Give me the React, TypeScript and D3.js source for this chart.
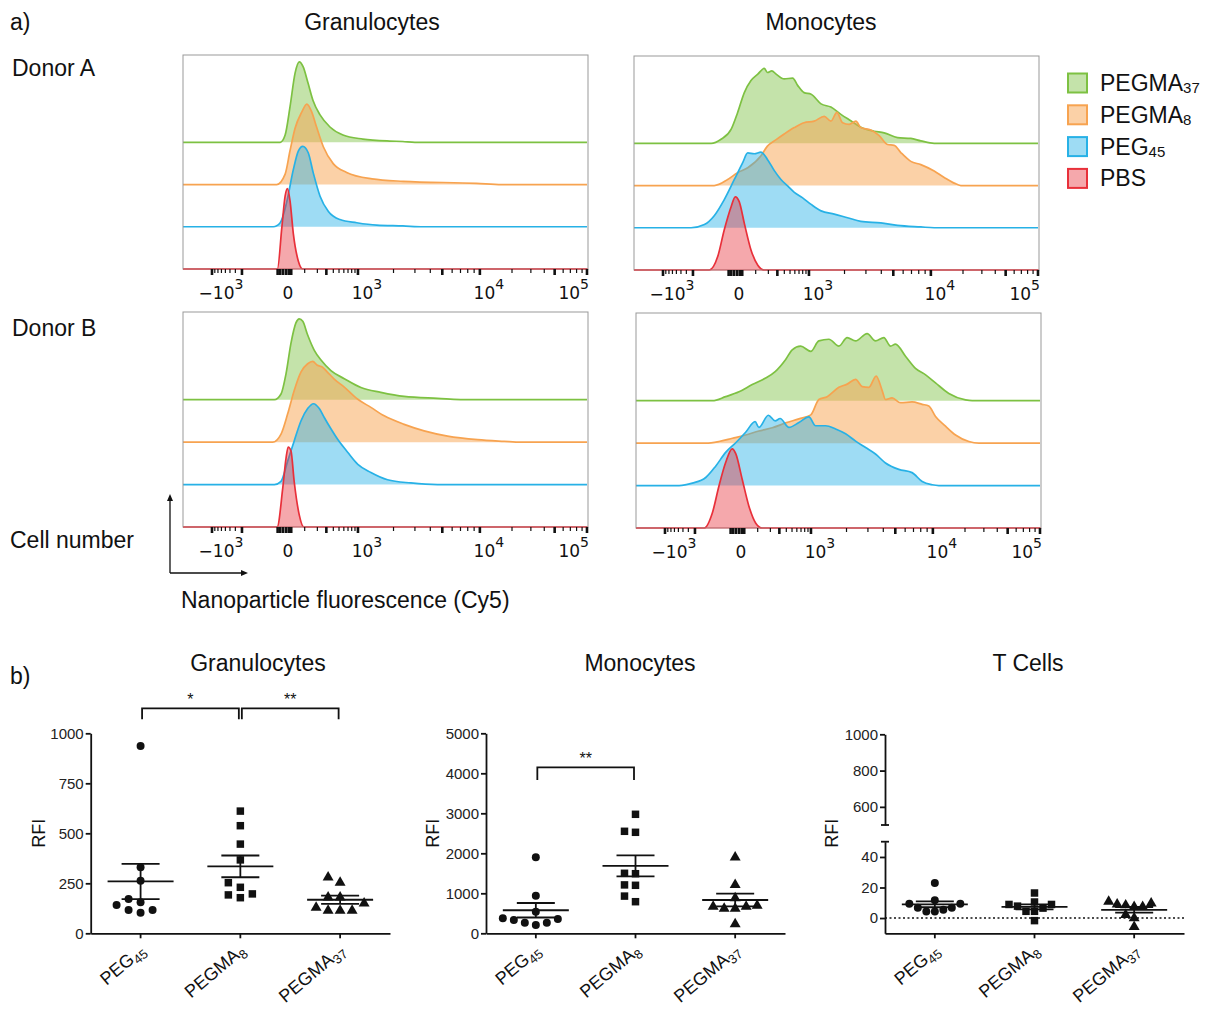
import { useEffect, useRef } from 'react';
import * as d3 from 'd3';

type Pt = [number, number];

// a) flow histograms: [Cy5 fluorescence, % of mode]
const granA_PEGMA37: Pt[] = [[-10, 0], [7, 9], [25, 44], [47, 86], [68, 100], [90, 94], [122, 74], [161, 52], [227, 34], [349, 19], [581, 9], [1103, 4], [1863, 1.5], [2389, 1], [3000, 0]];
const granA_PEGMA8: Pt[] = [[-24, 0], [7, 13], [25, 42], [47, 70], [82, 90], [114, 100], [151, 90], [191, 72], [263, 47], [398, 26], [665, 15], [1320, 7], [2405, 4], [9400, 1.5], [16000, 0]];
const granA_PEG45: Pt[] = [[-39, 0], [-10, 5], [12, 30], [39, 71], [63, 94], [88, 100], [124, 92], [163, 67], [227, 38], [327, 19], [517, 9], [960, 5], [1444, 2], [2389, 1], [3500, 0]];
const granA_PBS: Pt[] = [[-21, 0], [-4, 52], [7, 91], [15, 100], [25, 85], [39, 44], [63, 10], [88, 0]];

const monoA_PEGMA37: Pt[] = [[-117, 0], [-55, 5], [-10, 17.5], [12, 38], [39, 63], [72, 78], [114, 86], [163, 93], [191, 88], [235, 90], [285, 86], [398, 80], [553, 81], [665, 72], [840, 63], [1044, 61], [1270, 49], [1539, 45], [1866, 36], [2255, 28], [2725, 20], [3497, 15], [4215, 13], [5408, 7], [6916, 6], [8314, 3], [10740, 0]];
const monoA_PEGMA8: Pt[] = [[-95, 0], [-24, 7.5], [12, 16], [55, 22], [137, 37], [191, 49], [285, 57], [398, 64], [588, 72], [840, 78], [1111, 80], [1352, 86], [1539, 80], [1728, 91], [1928, 78], [2186, 76], [2482, 80], [2725, 72], [3288, 69], [3845, 62], [4490, 51], [5080, 50], [5750, 41], [6916, 30], [8314, 26], [10740, 18], [13330, 10], [16530, 3], [19090, 0]];
const monoA_PEG45: Pt[] = [[-327, 0], [-172, 4], [-95, 15], [-39, 35], [1, 60], [32, 81], [55, 93], [91, 92], [137, 94], [191, 85], [263, 71], [349, 60], [456, 52], [588, 44], [790, 37.5], [1044, 29], [1270, 21], [1642, 17], [2118, 12.5], [2725, 8], [3965, 6], [5408, 3], [8314, 1], [10740, 0]];
const monoA_PBS: Pt[] = [[-130, 0], [-73, 17], [-39, 50], [-10, 79], [4, 91], [18, 85], [39, 58], [72, 25], [114, 6], [163, 0]];

const granB_PEGMA37: Pt[] = [[-34, 0], [-7, 7], [10, 32], [29, 70], [51, 95], [68, 100], [88, 97], [120, 80], [172, 61], [237, 49], [363, 36], [610, 26], [1061, 15], [1567, 9], [2447, 4], [4577, 1.7], [8471, 0]];
const granB_PEGMA8: Pt[] = [[-42, 0], [-7, 10], [16, 35], [43, 64], [78, 87], [120, 97], [158, 100], [200, 95], [250, 93], [310, 87], [415, 78], [610, 68], [995, 53], [1292, 43], [1673, 32.5], [2447, 22], [3564, 14], [5510, 7.5], [9580, 3], [16880, 1], [24220, 0]];
const granB_PEG45: Pt[] = [[-34, 0], [-7, 4], [16, 29], [43, 54], [78, 79], [120, 94], [165, 100], [219, 94], [274, 83], [363, 69], [474, 56], [691, 40], [995, 25], [1292, 15], [1784, 6], [2777, 2], [4577, 0]];
const granB_PBS: Pt[] = [[-22, 0], [-1, 48], [10, 85], [18, 99], [29, 94], [43, 56], [68, 15], [94, 0]];

const monoB_PEGMA37: Pt[] = [[-122, 0], [-42, 5], [10, 11], [68, 20], [158, 28], [250, 36], [390, 51], [504, 63], [691, 67.5], [995, 61], [1170, 74], [1424, 76], [1728, 67.5], [2024, 78], [2377, 74], [2955, 83], [3456, 74], [4040, 78], [4577, 67.5], [5017, 70], [6038, 55], [7260, 40], [8750, 32], [10590, 22], [14120, 9], [20230, 1], [23340, 0]];
const monoB_PEGMA8: Pt[] = [[-178, 0], [-78, 2], [-13, 6], [36, 10], [108, 15], [219, 19], [390, 25], [648, 30], [995, 35], [1170, 54], [1378, 57.5], [1728, 69], [2024, 73], [2377, 79], [2694, 70], [3055, 69], [3500, 83], [3918, 65], [4166, 54], [4709, 56], [5510, 50], [6818, 51], [8217, 48], [9276, 46], [10590, 33], [13140, 21], [16310, 10], [21730, 2], [26940, 0]];
const monoB_PEG45: Pt[] = [[-585, 0], [-337, 3], [-178, 10], [-99, 24], [-42, 41], [-1, 53], [36, 66], [84, 79], [108, 72], [181, 87], [250, 80], [310, 83], [444, 72], [648, 78], [930, 85], [1097, 74], [1335, 74], [1622, 70], [1965, 64], [2377, 55], [2872, 47], [3456, 39], [4166, 28], [5333, 20], [6818, 16], [8217, 5], [9880, 1], [11380, 0]];
const monoB_PBS: Pt[] = [[-194, 0], [-122, 19], [-78, 52], [-42, 81], [-14, 98], [-1, 92], [22, 60], [51, 27], [88, 6], [132, 0]];

const legendMain = ['PEGMA', 'PEGMA', 'PEG', 'PBS'];
const legendSub = ['37', '8', '45', ''];
const seriesColors = ['#7dc142', '#f7a350', '#27b1e6', '#e8303a'];
const seriesFill = [0.45, 0.5, 0.45, 0.42];

// logicle-like axis
const axisKnots = [-2830, -1000, 0, 1000, 10000, 100000];
const labelTicks = [-1000, 0, 1000, 10000, 100000];
const labelMain = ['\u221210', '0', '10', '10', '10'];
const labelSup = ['3', '', '3', '4', '5'];
const thickTicks = [-1000, -300, -20, -10, 0, 10, 20, 30, 300, 1000, 5000, 10000, 50000, 100000];
const thinTicks = [-900, -800, -700, -600, -500, -400, 100, 200, 400, 500, 600, 700, 800, 900, 2000, 3000, 4000, 6000, 7000, 8000, 9000, 20000, 30000, 40000, 60000, 70000, 80000, 90000];

// b) RFI per donor
const categoriesMain = ['PEG', 'PEGMA', 'PEGMA'];
const categoriesSub = ['45', '8', '37'];
const granPEG45 = [936, 330, 263, 171, 155, 141, 117, 117, 103];
const granPEGMA8 = [611, 538, 446, 367, 253, 230, 197, 192, 178];
const granPEGMA37 = [280, 253, 180, 180, 150, 128, 113, 113, 113];
const monoPEG45 = [1900, 940, 540, 375, 358, 333, 266, 266, 208];
const monoPEGMA8 = [2975, 2550, 2525, 1500, 1490, 1210, 1200, 930, 790];
const monoPEGMA37 = [1900, 1210, 880, 690, 670, 667, 620, 620, 233];
const tPEG45 = [23, 11.6, 9.4, 9.4, 6.7, 6.7, 5.5, 4.3, 4.3];
const tPEGMA8 = [16.4, 10.5, 8.9, 8.9, 7.8, 6.5, 4.4, 4.4, -1.7];
const tPEGMA37 = [10.7, 9.6, 8.9, 8.4, 7.3, 7.3, 2.1, 0, -5.7];

const SANS = 'Liberation Sans, Arial, Helvetica, sans-serif';
const FLOW = 'DejaVu Sans, sans-serif';

const T = (v: number) => Math.sign(v) * Math.log10(1 + Math.abs(v) / 100);

const App = () => {
  const svgRef = useRef<SVGSVGElement>(null);

  useEffect(() => {
    const svg = d3.select(svgRef.current);
    svg.selectAll('*').remove();

    const label = (x: number, y: number, text: string, size = 23, anchor = 'start') =>
      svg.append('text').attr('x', x).attr('y', y).attr('font-family', SANS)
        .attr('font-size', size).attr('text-anchor', anchor).attr('fill', '#111').text(text);

    // ---------- a) histograms ----------
    label(10, 30, 'a)');
    label(372, 30, 'Granulocytes', 23, 'middle');
    label(821, 30, 'Monocytes', 23, 'middle');
    label(12, 76, 'Donor A');
    label(12, 336, 'Donor B');
    label(10, 548, 'Cell number');
    label(181, 608, 'Nanoparticle fluorescence (Cy5)');

    // axis arrows
    svg.append('path').attr('d', 'M170,573 V499 M170,573 H243')
      .attr('fill', 'none').attr('stroke', '#111').attr('stroke-width', 1.3);
    svg.append('path').attr('d', 'M170,494 L167,501 L173,501 Z M248,573 L241,570 L241,576 Z').attr('fill', '#111');

    const histPanels = [
      { left: 183, top: 55, width: 405, height: 214, series: [granA_PEGMA37, granA_PEGMA8, granA_PEG45, granA_PBS] },
      { left: 634, top: 56, width: 405, height: 214, series: [monoA_PEGMA37, monoA_PEGMA8, monoA_PEG45, monoA_PBS] },
      { left: 183, top: 312, width: 405, height: 215, series: [granB_PEGMA37, granB_PEGMA8, granB_PEG45, granB_PBS] },
      { left: 636, top: 313, width: 405, height: 215, series: [monoB_PEGMA37, monoB_PEGMA8, monoB_PEG45, monoB_PBS] },
    ];
    const knotFrac = [0, 0.0716, 0.247, 0.432, 0.733, 0.9975];

    histPanels.forEach((p) => {
      const bottom = p.top + p.height;
      const x = d3.scaleLinear().domain(axisKnots.map(T)).range(knotFrac.map((f) => p.left + f * p.width));
      const xPos = (v: number) => x(T(v));
      const y = d3.scaleLinear().domain([0, 266]).range([bottom, p.top]);
      const g = svg.append('g');

      g.append('rect').attr('x', p.left).attr('y', p.top).attr('width', p.width).attr('height', p.height)
        .attr('fill', '#fff');

      p.series.forEach((data, k) => {
        const off = (3 - k) * 52.5;
        const pts: Pt[] = [[axisKnots[0], 0], ...data, [100000, 0]];
        const area = d3.area<Pt>().x((d) => xPos(d[0])).y0(y(off)).y1((d) => y(off + d[1])).curve(d3.curveMonotoneX);
        const line = d3.line<Pt>().x((d) => xPos(d[0])).y((d) => y(off + d[1])).curve(d3.curveMonotoneX);
        g.append('path').attr('d', area(pts)).attr('fill', seriesColors[k]).attr('fill-opacity', seriesFill[k]);
        g.append('path').attr('d', line(pts)).attr('fill', 'none').attr('stroke', seriesColors[k]).attr('stroke-width', 1.7);
      });

      g.append('rect').attr('x', p.left).attr('y', p.top).attr('width', p.width).attr('height', p.height)
        .attr('fill', 'none').attr('stroke', '#999').attr('stroke-width', 1);
      g.append('line').attr('x1', p.left).attr('x2', p.left + p.width).attr('y1', bottom).attr('y2', bottom)
        .attr('stroke', seriesColors[3]).attr('stroke-opacity', 0.6).attr('stroke-width', 1.2);

      thinTicks.forEach((v) => {
        g.append('line').attr('x1', xPos(v)).attr('x2', xPos(v)).attr('y1', bottom).attr('y2', bottom + 4)
          .attr('stroke', '#111').attr('stroke-width', 1.2);
      });
      thickTicks.forEach((v) => {
        g.append('line').attr('x1', xPos(v)).attr('x2', xPos(v)).attr('y1', bottom).attr('y2', bottom + 6)
          .attr('stroke', '#111').attr('stroke-width', 2.6);
      });

      labelTicks.forEach((v, i) => {
        const t = g.append('text').attr('y', bottom + 30).attr('font-family', FLOW).attr('font-size', 17).attr('fill', '#111');
        if (i === labelTicks.length - 1) t.attr('x', p.left + p.width + 1).attr('text-anchor', 'end');
        else t.attr('x', xPos(v) + (v === 0 ? 5 : 9)).attr('text-anchor', 'middle');
        t.append('tspan').text(labelMain[i]);
        if (labelSup[i]) t.append('tspan').attr('dy', -10).attr('font-size', 14).text(labelSup[i]);
      });
    });

    // legend
    legendMain.forEach((m, i) => {
      const cy = 83 + i * 31.8;
      svg.append('rect').attr('x', 1068).attr('y', cy - 9.5).attr('width', 19).attr('height', 19)
        .attr('fill', seriesColors[i]).attr('fill-opacity', seriesFill[i]).attr('stroke', seriesColors[i]).attr('stroke-width', 2);
      const t = svg.append('text').attr('x', 1100).attr('y', cy + 8).attr('font-family', SANS).attr('font-size', 23).attr('fill', '#111');
      t.append('tspan').text(m);
      if (legendSub[i]) t.append('tspan').attr('dy', 2).attr('font-size', 15).text(legendSub[i]);
    });

    // ---------- b) scatter plots ----------
    label(10, 684, 'b)');
    const axisY = 933.3;
    const symbols = [d3.symbolCircle, d3.symbolSquare, d3.symbolTriangle];
    const symbolSize = [50, 56, 52];

    const scatterPanels = [
      {
        title: 'Granulocytes', titleX: 258, x0: 90.7, x1: 390, step: 12, rfiX: 39,
        y: d3.scaleLinear().domain([0, 1000]).range([axisY, 733.3]), ticks: [0, 250, 500, 750, 1000],
        data: [granPEG45, granPEGMA8, granPEGMA37],
        brackets: [{ a: 0, b: 1, text: '*', top: 1125, leg: 1070 }, { a: 1, b: 2, text: '**', top: 1125, leg: 1070 }],
      },
      {
        title: 'Monocytes', titleX: 640, x0: 486, x1: 785, step: 11, rfiX: 433,
        y: d3.scaleLinear().domain([0, 5000]).range([axisY, 733.3]), ticks: [0, 1000, 2000, 3000, 4000, 5000],
        data: [monoPEG45, monoPEGMA8, monoPEGMA37],
        brackets: [{ a: 0, b: 1, text: '**', top: 4150, leg: 3830 }],
      },
      {
        title: 'T Cells', titleX: 1028, x0: 885, x1: 1184, step: 8.5, rfiX: 832,
        y: d3.scaleLinear().domain([-10, 50]).range([axisY, 841.7]), ticks: [0, 20, 40],
        upper: d3.scaleLinear().domain([500, 1000]).range([825, 734.3]), upperTicks: [600, 800, 1000],
        data: [tPEG45, tPEGMA8, tPEGMA37],
        brackets: [],
      },
    ];

    scatterPanels.forEach((p) => {
      const g = svg.append('g');
      const xb = d3.scaleBand<number>().domain([0, 1, 2]).range([p.x0, p.x1]);
      const cx = (i: number) => (xb(i) as number) + xb.bandwidth() / 2;

      label(p.titleX, 671, p.title, 23, 'middle');

      const styleAxis = (sel: any) => {
        sel.attr('font-family', SANS).attr('font-size', 15);
        sel.selectAll('path.domain').attr('stroke', '#111').attr('stroke-width', 1.8);
        sel.selectAll('.tick line').attr('stroke', '#111').attr('stroke-width', 1.8);
        sel.selectAll('.tick text').attr('fill', '#222');
      };

      const yAx = g.append('g').attr('transform', `translate(${p.x0},0)`)
        .call(d3.axisLeft(p.y).tickValues(p.ticks).tickSize(5).tickSizeOuter(0).tickPadding(2).tickFormat(d3.format('d')));
      styleAxis(yAx);
      if (p.upper) {
        const up = g.append('g').attr('transform', `translate(${p.x0},0)`)
          .call(d3.axisLeft(p.upper).tickValues(p.upperTicks).tickSize(5).tickSizeOuter(0).tickPadding(2).tickFormat(d3.format('d')));
        styleAxis(up);
        [p.upper(500), p.y(50)].forEach((yy) => {
          g.append('line').attr('x1', p.x0 - 4).attr('x2', p.x0 + 4).attr('y1', yy).attr('y2', yy)
            .attr('stroke', '#111').attr('stroke-width', 1.8);
        });
        g.append('line').attr('x1', p.x0).attr('x2', p.x1).attr('y1', p.y(0)).attr('y2', p.y(0))
          .attr('stroke', '#111').attr('stroke-width', 1.5).attr('stroke-dasharray', '2,2.5');
      }

      const xAx = g.append('g').attr('transform', `translate(0,${axisY})`)
        .call(d3.axisBottom(xb).tickSize(5).tickSizeOuter(0).tickFormat(() => ''));
      styleAxis(xAx);

      g.append('text').attr('transform', `translate(${p.rfiX + 6},${(733.3 + axisY) / 2}) rotate(-90)`)
        .attr('text-anchor', 'middle').attr('font-family', SANS).attr('font-size', 18).attr('fill', '#111').text('RFI');

      categoriesMain.forEach((m, i) => {
        const t = g.append('text').attr('transform', `translate(${cx(i) + 6},${axisY + 19}) rotate(-40)`)
          .attr('text-anchor', 'end').attr('font-family', SANS).attr('font-size', 18).attr('fill', '#111');
        t.append('tspan').text(m);
        t.append('tspan').attr('dy', 4).attr('font-size', 13).text(categoriesSub[i]);
      });

      p.data.forEach((vals, i) => {
        // beeswarm placement like GraphPad scatter
        const pts = vals.map((v) => ({ v, py: p.y(v), dx: 0 })).sort((a, b) => a.v - b.v);
        const placed: { v: number; py: number; dx: number }[] = [];
        pts.forEach((pt) => {
          for (let k = 0; k < 20; k++) {
            const off = k === 0 ? 0 : (k % 2 ? -1 : 1) * Math.ceil(k / 2) * p.step;
            if (!placed.some((q) => Math.abs(q.dx - off) < p.step * 0.95 && Math.abs(q.py - pt.py) < 8)) {
              pt.dx = off;
              break;
            }
          }
          placed.push(pt);
        });
        const sym = d3.symbol().type(symbols[i]).size(symbolSize[i]);
        placed.forEach((pt) => {
          g.append('path').attr('d', sym()).attr('transform', `translate(${cx(i) + pt.dx},${pt.py})`).attr('fill', '#111');
        });

        const mean = d3.mean(vals) as number;
        const sem = (d3.deviation(vals) as number) / Math.sqrt(vals.length);
        const c = cx(i);
        const ln = (x1: number, x2: number, y1: number, y2: number) =>
          g.append('line').attr('x1', x1).attr('x2', x2).attr('y1', y1).attr('y2', y2).attr('stroke', '#111').attr('stroke-width', 1.8);
        ln(c - 33, c + 33, p.y(mean), p.y(mean));
        ln(c - 19, c + 19, p.y(mean + sem), p.y(mean + sem));
        ln(c - 19, c + 19, p.y(mean - sem), p.y(mean - sem));
        ln(c, c, p.y(mean + sem), p.y(mean - sem));
      });

      p.brackets.forEach((b) => {
        const xa = cx(b.a) + 1.5;
        const xc = cx(b.b) - 1.5;
        g.append('path').attr('d', `M${xa},${p.y(b.leg)} V${p.y(b.top)} H${xc} V${p.y(b.leg)}`)
          .attr('fill', 'none').attr('stroke', '#111').attr('stroke-width', 1.8);
        g.append('text').attr('x', (xa + xc) / 2).attr('y', p.y(b.top) - 3).attr('text-anchor', 'middle')
          .attr('font-family', SANS).attr('font-size', 16).attr('fill', '#111').text(b.text);
      });
    });
  }, []);

  return (
    <div style={{ position: 'absolute', left: 0, top: 0 }}>
      <svg ref={svgRef} width={1210} height={1011} style={{ display: 'block', background: '#fff' }}></svg>
    </div>
  );
};

export default App;
